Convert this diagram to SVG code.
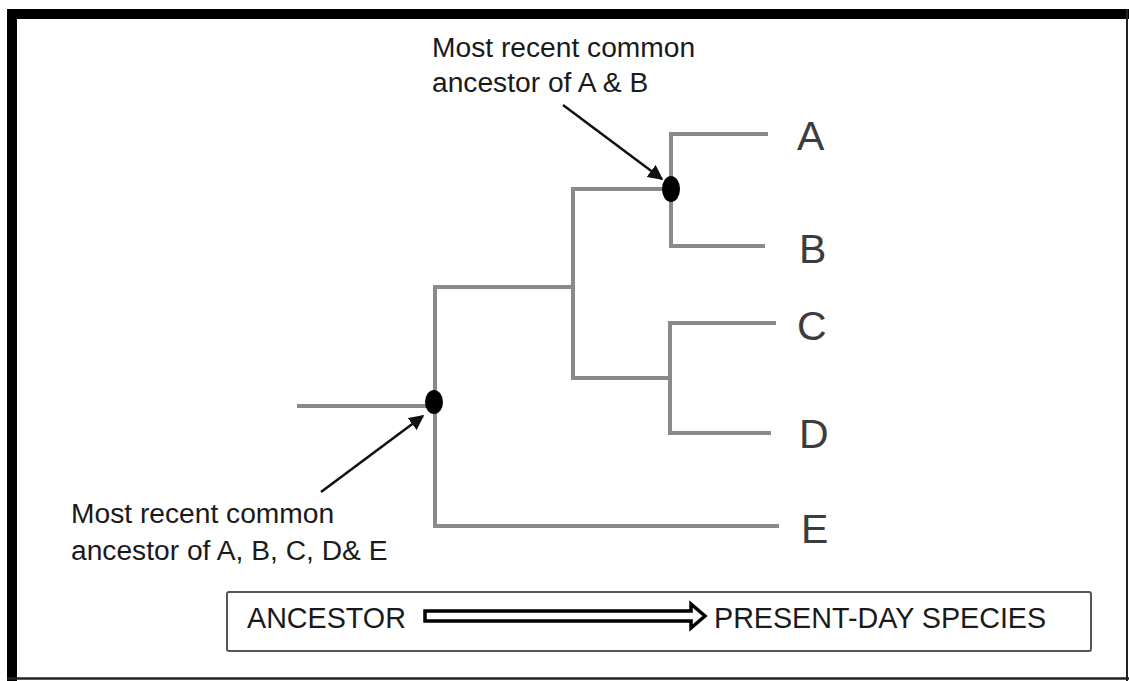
<svg xmlns="http://www.w3.org/2000/svg" width="1129" height="681" viewBox="0 0 1129 681">
<style>
.br{stroke:#8a8a8a;stroke-width:4;fill:none;stroke-linecap:butt;stroke-linejoin:miter}
.lbl{font-family:"Liberation Sans",Arial,sans-serif;font-size:28.2px;fill:#1a1a1a}
.leg{font-family:"Liberation Sans",Arial,sans-serif;font-size:28.7px;fill:#1a1a1a}
.leaf{font-family:"Liberation Sans",Arial,sans-serif;font-size:41px;fill:#3c3c3c}
.ptr{stroke:#111;stroke-width:2.5;fill:none}
</style>
<defs>
<marker id="ah" viewBox="0 0 10 10" refX="9" refY="5" markerWidth="6" markerHeight="6" markerUnits="strokeWidth" orient="auto">
<path d="M0,0 L10,5 L0,10 z" fill="#111"/>
</marker>
</defs>
<rect width="1129" height="681" fill="#fff"/>
<g id="frame">
<rect x="7" y="9" width="1122" height="10" fill="#000"/>
<rect x="7" y="9" width="10" height="672" fill="#000"/>
<line x1="1127" y1="9" x2="1127" y2="681" stroke="#222" stroke-width="2"/>
<line x1="7" y1="678.5" x2="1129" y2="678.5" stroke="#222" stroke-width="2.5"/>
</g>
<g id="connectors">
<path class="br" d="M297,406 H435"/>
<path class="br" d="M573,287 H435 V526 H779"/>
<path class="br" d="M671,189 H573 V378 H670"/>
<path class="br" d="M776,323 H670 V433 H771"/>
<path class="br" d="M768,134 H671 V246 H765"/>
<line class="ptr" x1="563" y1="105" x2="662" y2="179" marker-end="url(#ah)"/>
<line class="ptr" x1="321" y1="492" x2="423" y2="416" marker-end="url(#ah)"/>
</g>
<g id="node-AB"><ellipse cx="671" cy="189" rx="9" ry="13" fill="#000"/></g>
<g id="node-root"><ellipse cx="434" cy="402" rx="9" ry="12" fill="#000"/></g>
<g id="leaf-A"><text class="leaf" x="797" y="150">A</text></g>
<g id="leaf-B"><text class="leaf" x="799" y="263">B</text></g>
<g id="leaf-C"><text class="leaf" x="797" y="340">C</text></g>
<g id="leaf-D"><text class="leaf" x="799" y="448">D</text></g>
<g id="leaf-E"><text class="leaf" x="801" y="543">E</text></g>
<g id="label-AB">
<text class="lbl" x="432" y="57">Most recent common</text>
<text class="lbl" x="432" y="92">ancestor of A &amp; B</text>
</g>
<g id="label-root">
<text class="lbl" x="71" y="523">Most recent common</text>
<text class="lbl" x="71" y="560">ancestor of A, B, C, D&amp; E</text>
</g>
<g id="legend">
<rect x="227" y="592" width="864" height="59" rx="2" fill="#fff" stroke="#555" stroke-width="2"/>
<text class="leg" x="247" y="628">ANCESTOR</text>
<polygon points="425,611 691,611 691,604 705,616 691,628 691,621 425,621" fill="#fff" stroke="#000" stroke-width="3.5" stroke-linejoin="miter"/>
<text class="leg" x="714" y="628">PRESENT-DAY SPECIES</text>
</g>
</svg>
